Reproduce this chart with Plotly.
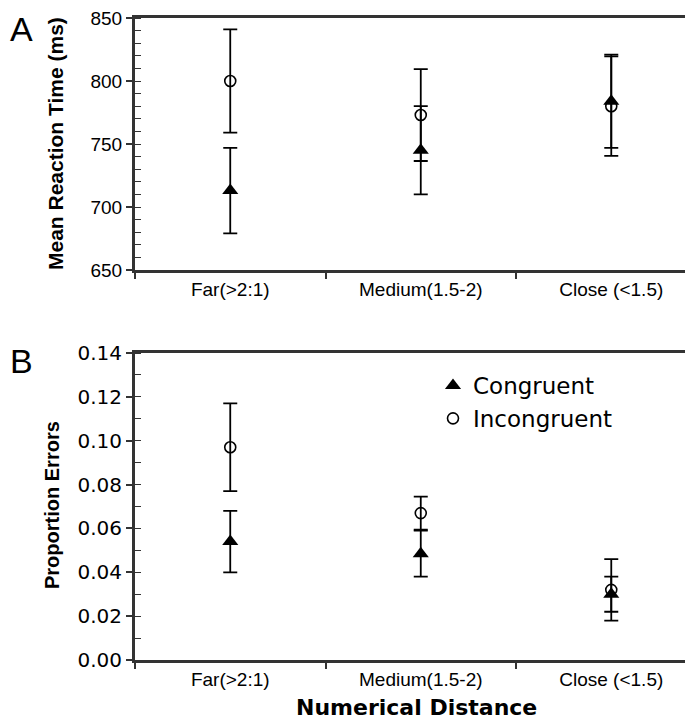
import plotly.graph_objects as go

# ---------------- data ----------------
categories = ["Far(>2:1)", "Medium(1.5-2)", "Close (<1.5)"]

rt_congruent = [713, 745, 784]
rt_congruent_err = [34, 35, 37]
rt_incongruent = [800, 773, 780]
rt_incongruent_err = [41, 36.5, 39.5]

pe_congruent = [0.054, 0.0485, 0.030]
pe_congruent_err = [0.014, 0.0105, 0.008]
pe_incongruent = [0.097, 0.067, 0.032]
pe_incongruent_err = [0.020, 0.0075, 0.014]

rt_ticks = [650, 700, 750, 800, 850]
pe_ticks = [0.00, 0.02, 0.04, 0.06, 0.08, 0.10, 0.12, 0.14]

# ---------------- layout helpers ----------------
W, H = 693, 722
FRAME = "#333333"
ARIAL = "Liberation Sans, Arial, sans-serif"
VERD = "DejaVu Sans, Verdana, sans-serif"


def px_x(p):
    return p / W


def px_y(p):
    return 1 - p / H


fig = go.Figure()


def add_pair(xax, yax, cong, cong_err, inc, inc_err, legend):
    fig.add_trace(go.Scatter(
        x=categories, y=inc, mode="markers", name="Incongruent",
        xaxis=xax, yaxis=yax, showlegend=legend, legendrank=2,
        marker=dict(symbol="circle-open", size=11, color="black",
                    line=dict(width=1.6, color="black")),
        error_y=dict(type="data", array=inc_err, visible=True,
                     color="black", thickness=1.8, width=7),
    ))
    fig.add_trace(go.Scatter(
        x=categories, y=cong, mode="markers", name="Congruent",
        xaxis=xax, yaxis=yax, showlegend=legend, legendrank=1,
        marker=dict(symbol="triangle-up", size=14, color="black"),
        error_y=dict(type="data", array=cong_err, visible=True,
                     color="black", thickness=1.8, width=7),
    ))


add_pair("x", "y", rt_congruent, rt_congruent_err,
         rt_incongruent, rt_incongruent_err, False)
add_pair("x2", "y2", pe_congruent, pe_congruent_err,
         pe_incongruent, pe_incongruent_err, True)

xdom = [px_x(127), px_x(689)]

common_x = dict(
    domain=xdom, type="category", categoryorder="array",
    categoryarray=categories, range=[-0.5, 2.45], tickson="boundaries",
    ticks="outside", ticklen=6, tickwidth=1.5, tickcolor=FRAME,
    showline=True, linewidth=3, linecolor=FRAME, mirror=True,
    showgrid=False, zeroline=False,
    tickfont=dict(family=ARIAL, size=19, color="black"),
    automargin=False, ticklabeloverflow="allow",
)

fig.update_layout(
    width=W, height=H,
    margin=dict(l=0, r=0, t=0, b=0),
    paper_bgcolor="white", plot_bgcolor="white",
    xaxis=dict(anchor="y", **common_x),
    xaxis2=dict(anchor="y2", **common_x),
    yaxis=dict(
        anchor="x", domain=[px_y(262), px_y(10)], range=[650, 850],
        tickmode="array", tickvals=rt_ticks,
        ticks="outside", ticklen=6, tickwidth=1.5, tickcolor=FRAME,
        minor=dict(dtick=10, tick0=650, ticks="inside", ticklen=6,
                   tickwidth=1.2, tickcolor=FRAME, showgrid=False),
        showline=True, linewidth=3, linecolor=FRAME, mirror=True,
        showgrid=False, zeroline=False,
        tickfont=dict(family=ARIAL, size=19, color="black"),
        automargin=False, ticklabeloverflow="allow",
    ),
    yaxis2=dict(
        anchor="x2", domain=[px_y(652), px_y(345)], range=[0, 0.14],
        tickmode="array", tickvals=pe_ticks, tickformat=".2f",
        ticks="outside", ticklen=6, tickwidth=1.5, tickcolor=FRAME,
        minor=dict(dtick=0.01, tick0=0, ticks="inside", ticklen=6,
                   tickwidth=1.2, tickcolor=FRAME, showgrid=False),
        showline=True, linewidth=3, linecolor=FRAME, mirror=True,
        showgrid=False, zeroline=False,
        tickfont=dict(family=VERD, size=20, color="black"),
        automargin=False, ticklabeloverflow="allow",
    ),
    legend=dict(
        x=px_x(425), y=px_y(356), xanchor="left", yanchor="top",
        bgcolor="rgba(0,0,0,0)", borderwidth=0,
        font=dict(family=VERD, size=23, color="black"),
        tracegroupgap=0,
    ),
    showlegend=True,
)

annotations = [
    dict(text="A", x=px_x(0), y=px_y(21), xanchor="left", yanchor="middle",
         font=dict(family=ARIAL, size=34, color="black")),
    dict(text="B", x=px_x(0), y=px_y(353), xanchor="left", yanchor="middle",
         font=dict(family=ARIAL, size=34, color="black")),
    dict(text="<b>Mean Reaction Time (ms)</b>", x=px_x(48), y=px_y(136),
         textangle=-90, xanchor="center", yanchor="middle",
         font=dict(family=ARIAL, size=21, color="black")),
    dict(text="<b>Proportion Errors</b>", x=px_x(44), y=px_y(497),
         textangle=-90, xanchor="center", yanchor="middle",
         font=dict(family=ARIAL, size=20, color="black")),
    dict(text="<b>Numerical Distance</b>", x=px_x(408), y=px_y(699),
         xanchor="center", yanchor="middle",
         font=dict(family=VERD, size=22, color="black")),
]
for a in annotations:
    a.update(xref="paper", yref="paper", showarrow=False)
fig.update_layout(annotations=annotations)

fig.write_html("out.html")
